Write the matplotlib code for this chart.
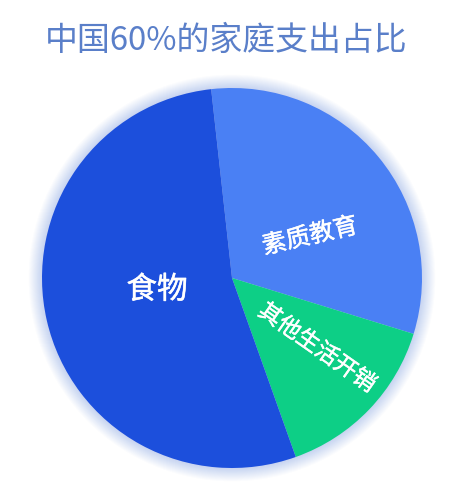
import matplotlib
matplotlib.use("Agg")
import matplotlib.pyplot as plt
import matplotlib.patheffects as pe
from matplotlib.patches import Circle

plt.rcParams['font.family'] = ['Noto Sans CJK SC', 'DejaVu Sans']

# 数据 (从图上估计)
categories = ['素质教育', '其他生活开销', '食物']
shares = [31.5, 14.8, 53.7]
title = '中国60%的家庭支出占比'

colors = ['#4a80f4', '#0dcf86', '#1c4fdc']
# 标签位置 (数据坐标) 和旋转角度
label_pos = [(0.41, 0.22), (0.447, -0.368), (-0.395, -0.063)]
label_rot = [13, -35, 0]
label_size = [17.5, 16.5, 22]

W, H = 463, 498
fig = plt.figure(figsize=(W / 100, H / 100), dpi=100)
fig.patch.set_facecolor('white')

cx, cy, r = 232, 278, 190
ax = fig.add_axes([(cx - r) / W, (H - cy - r) / H, 2 * r / W, 2 * r / H])
ax.set_xlim(-1, 1)
ax.set_ylim(-1, 1)
ax.set_aspect('equal')
ax.axis('off')

# 外圈的淡蓝色光晕
for i in range(14):
    rad = 1.0 + 0.005 * (i + 1)
    ax.add_patch(Circle((0, 0.0), rad, color='#3a6cf0', alpha=0.018,
                        lw=0, clip_on=False, zorder=0))

wedges, _ = ax.pie(shares, colors=colors, startangle=96.3, counterclock=False,
                   radius=1.0, wedgeprops=dict(linewidth=0),
                   frame=False)
for w in wedges:
    w.set_zorder(2)
    w.set_clip_on(False)
ax.set_xlim(-1, 1)
ax.set_ylim(-1, 1)

# 标签字重稍粗一点
thick = [pe.withStroke(linewidth=0.35, foreground='white')]
for name, pos, rot, size in zip(categories, label_pos, label_rot, label_size):
    ax.text(pos[0], pos[1], name, color='white', fontsize=size,
            rotation=rot, rotation_mode='anchor', path_effects=thick,
            ha='center', va='center', zorder=3)

fig.text(45 / W, 1 - 41 / H, title, color='#5a7fc9', fontsize=23.7,
         ha='left', va='center')

fig.savefig('out.png', dpi=100, facecolor='white')
